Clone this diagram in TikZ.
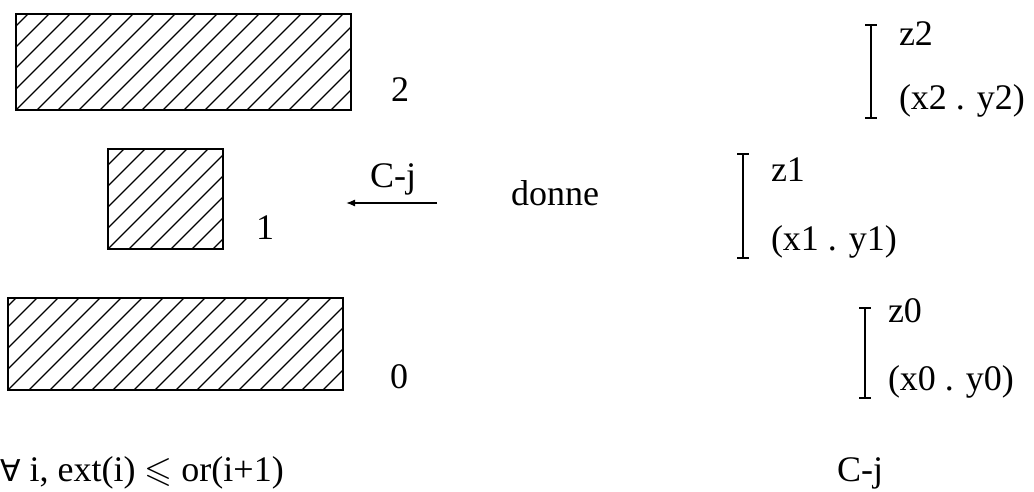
\documentclass[tikz,border=0pt]{standalone}
\usepackage{fontspec}
\usepackage{amssymb}
\setmainfont{Liberation Serif}
\newfontfamily\symfnt{DejaVu Sans}
\usetikzlibrary{arrows.meta}
\begin{document}
\begin{tikzpicture}[x=1pt,y=-1pt,
  every node/.style={inner sep=0pt,outer sep=0pt,font=\fontsize{36}{40}\selectfont},
  txt/.style={anchor=base west},
  hatchline/.style={line width=1.4pt},
  hatchbox/.style={draw,line width=2.4pt,anchor=north west,
    path picture={\foreach \k in {-12,...,22}{\draw[hatchline]
      ([xshift=\k*21pt]path picture bounding box.south west) -- ++(160pt,160pt);}}},
  bracket/.style={line width=2.6pt},
  arr/.style={line width=1.3pt,-{Latex[length=9pt,width=7pt]}}
]
\useasboundingbox (0,0) rectangle (1034,492);

% hatched blocks
\node[hatchbox,minimum width=335pt,minimum height=96pt] (r2) at (16,14) {};
\node[hatchbox,minimum width=115pt,minimum height=100pt] (r1) at (108,149) {};
\node[hatchbox,minimum width=335pt,minimum height=92pt] (r0) at (8,298) {};

% block labels
\node[txt] (l2) at (391,102) {2};
\node[txt] (l1) at (256,240) {1};
\node[txt] (l0) at (390,388) {0};

% arrow C-j
\coordinate (as) at (437,203);
\coordinate (ae) at (346,203);
\draw[arr] (as) -- (ae);
\node[txt] (cj) at (370,187) {C-j};
\node[txt] (donne) at (511,205) {donne};

% brackets
\coordinate (b2t) at (871,25);  \coordinate (b2b) at (871,118);
\coordinate (b1t) at (743,154); \coordinate (b1b) at (743,258);
\coordinate (b0t) at (865,308); \coordinate (b0b) at (865,398);
\foreach \t/\b in {b2t/b2b,b1t/b1b,b0t/b0b}{
  \draw[bracket] (\t) -- (\b);
  \draw[bracket] ([xshift=-6pt]\t) -- ([xshift=6pt]\t);
  \draw[bracket] ([xshift=-6pt]\b) -- ([xshift=6pt]\b);
}

\node[txt] (z2) at (899,46) {z2};
\node[txt] (p2) at (899,110) {(x2 . y2)};
\node[txt] (z1) at (771,182) {z1};
\node[txt] (p1) at (771,250) {(x1 . y1)};
\node[txt] (z0) at (888,322) {z0};
\node[txt] (p0) at (888,390) {(x0 . y0)};

\node[txt] (cj2) at (837,481) {C-j};
\node[txt] (formula) at (0,481) {{\symfnt\fontsize{30}{34}\selectfont ∀}\ i, ext(i) \(\leqslant\) or(i+1)};
\end{tikzpicture}
\end{document}
